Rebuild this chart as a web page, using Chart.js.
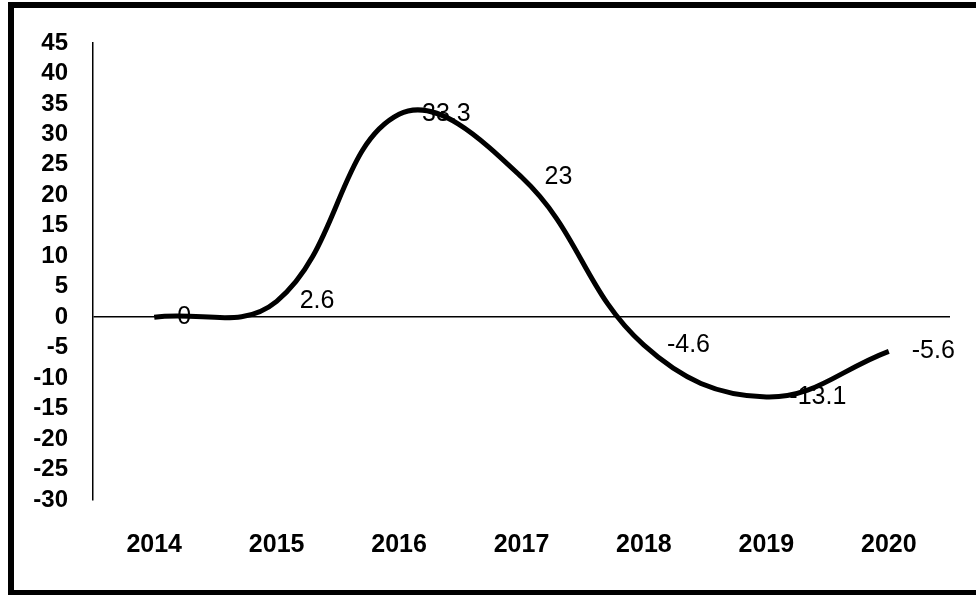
<!DOCTYPE html>
<html>
<head>
<meta charset="utf-8">
<script src="https://cdn.jsdelivr.net/npm/chart.js@4.4.1/dist/chart.umd.min.js"></script>
<style>
  html, body { margin: 0; padding: 0; background: #fff; }
  canvas { display: block; }
</style>
</head>
<body>
<canvas id="chart" width="976" height="595"></canvas>
<script>
  // values
  var years = ['2014', '2015', '2016', '2017', '2018', '2019', '2020'];
  var growth = [0, 2.6, 33.3, 23, -4.6, -13.1, -5.6];

  var yMin = -30;
  var yMax = 45;
  var yStep = 5;

  var FONT = "'Liberation Sans', Arial, sans-serif";

  // black frame round the picture (no right edge, it is cut off)
  var framePlugin = {
    id: 'frame',
    afterDraw: function (chart) {
      var c = chart.ctx;
      c.save();
      c.fillStyle = '#000';
      c.fillRect(8, 2, 968, 6);
      c.fillRect(8, 2, 6, 593);
      c.fillRect(8, 590, 968, 5);
      c.restore();
    }
  };

  // value labels to the right of each point
  var labelPlugin = {
    id: 'valueLabels',
    afterDatasetsDraw: function (chart) {
      var c = chart.ctx;
      var meta = chart.getDatasetMeta(0);
      c.save();
      c.font = '25px ' + FONT;
      c.fillStyle = '#000';
      c.textAlign = 'left';
      c.textBaseline = 'middle';
      meta.data.forEach(function (pt, i) {
        c.fillText(String(growth[i]), pt.x + 23, pt.y);
      });
      c.restore();
    }
  };

  var ctx = document.getElementById('chart').getContext('2d');

  new Chart(ctx, {
    type: 'line',
    data: {
      labels: years,
      datasets: [{
        data: growth,
        borderColor: '#000',
        borderWidth: 5,
        tension: 0.4,
        pointRadius: 0,
        fill: false
      }]
    },
    options: {
      responsive: false,
      animation: false,
      events: [],
      layout: {
        padding: { left: 0, right: 26, top: 43, bottom: 0 }
      },
      plugins: {
        legend: { display: false },
        tooltip: { enabled: false }
      },
      scales: {
        x: {
          type: 'category',
          offset: true,
          grid: { display: false, drawTicks: false },
          border: { display: false },
          ticks: {
            color: '#000',
            padding: 30,
            maxRotation: 0,
            font: { family: FONT, size: 25, weight: 'bold' }
          },
          afterFit: function (scale) { scale.height = 95; }
        },
        y: {
          min: yMin,
          max: yMax,
          grid: {
            drawTicks: false,
            lineWidth: 1.5,
            color: function (c) {
              return c.tick && c.tick.value === 0 ? '#000' : 'rgba(0,0,0,0)';
            }
          },
          border: { display: true, color: '#000', width: 1.5 },
          ticks: {
            stepSize: yStep,
            autoSkip: false,
            color: '#000',
            padding: 25,
            font: { family: FONT, size: 24, weight: 'bold' }
          },
          afterFit: function (scale) { scale.width = 93; }
        }
      }
    },
    plugins: [framePlugin, labelPlugin]
  });
</script>
</body>
</html>
